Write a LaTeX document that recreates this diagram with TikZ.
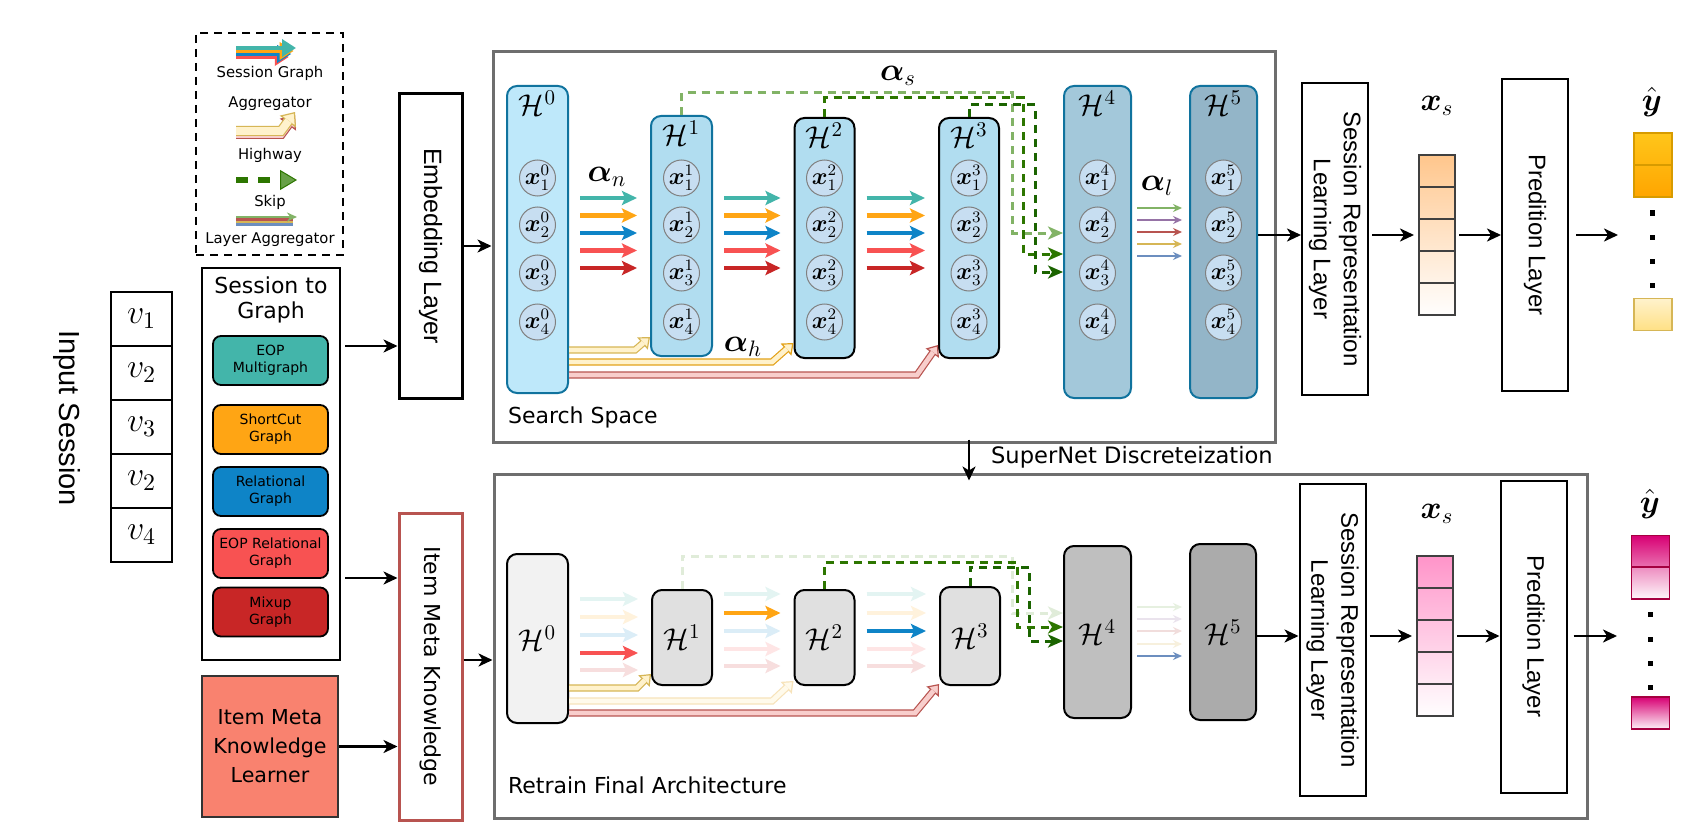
\RequirePackage{fix-cm}
\documentclass[tikz,border=0pt]{standalone}
\usepackage[no-math]{fontspec}
\usepackage{amsmath}
\usetikzlibrary{arrows.meta, positioning}
\newfontfamily\handfont{DejaVu Sans}
\newfontfamily\plainfont{Liberation Sans}
\definecolor{eopteal}{HTML}{43B5AA}
\definecolor{shortorange}{HTML}{FFA514}
\definecolor{relblue}{HTML}{0E84C7}
\definecolor{eopred}{HTML}{F85252}
\definecolor{mixred}{HTML}{C82626}
\definecolor{hlblue}{HTML}{10739E}
\definecolor{hzero}{HTML}{BEE8FA}
\definecolor{hmid}{HTML}{B1DDF0}
\definecolor{hfour}{HTML}{A3C8DA}
\definecolor{hfive}{HTML}{93B5C8}
\definecolor{nodefill}{HTML}{C7DEF1}
\definecolor{skiplight}{HTML}{82B366}
\definecolor{skipdark}{HTML}{2D7600}
\definecolor{skipdeep}{HTML}{1B6400}
\definecolor{hwyfill}{HTML}{FFF2CC}
\definecolor{hwyline}{HTML}{D6B656}
\definecolor{hwyline2}{HTML}{E3A21A}
\definecolor{hwyredfill}{HTML}{F8CECC}
\definecolor{hwyredline}{HTML}{B85450}
\definecolor{lagpurple}{HTML}{9673A6}
\definecolor{lagblue}{HTML}{6C8EBF}
\definecolor{boxgray}{HTML}{6E6E6E}
\definecolor{learnerfill}{HTML}{F9826F}
\definecolor{xsorange}{HTML}{FFC68C}
\definecolor{xspink}{HTML}{FF94C9}
\definecolor{ygold}{HTML}{FFC61A}
\definecolor{ydark}{HTML}{FFA500}
\definecolor{yline}{HTML}{D79B00}
\definecolor{ylight}{HTML}{FFF2CC}
\definecolor{ymag}{HTML}{D80073}
\definecolor{ymagline}{HTML}{A50040}
% highway arrow: fill, border, path
\newcommand{\highway}[3]{%
  \draw[line width=3.6pt, draw=#2, -{Triangle[length=5pt, width=8pt, line width=0.6pt, fill=#1]}] #3;
  \draw[line width=2.4pt, draw=#1, shorten >=4.4pt] #3;}

\begin{document}
\begin{tikzpicture}[x=0.5pt, y=-0.5pt,
  hcol/.style={rectangle, rounded corners=5pt, line width=1pt, inner sep=0pt},
  hbot/.style={hcol, draw=black, font=\fontsize{15}{15}\selectfont},
  hlab/.style={inner sep=0pt, font=\fontsize{15}{15}\selectfont},
  xn/.style={circle, draw=black!50, fill=nodefill, line width=0.5pt, minimum size=18pt, inner sep=0pt, font=\fontsize{12}{12}\selectfont},
  sga/.style={line width=2.3pt, draw=#1, -{Stealth[length=7.5pt, width=7pt, inset=1.5pt]}, shorten <=5.5pt, shorten >=6.5pt},
  lagg/.style={line width=1.4pt, draw=#1, -{Stealth[length=4.5pt, width=4pt]}, shorten <=2.5pt, shorten >=3.5pt},
  skipln/.style={draw=#1, line width=1.5pt, dash pattern=on 4pt off 3pt, -{Stealth[length=7.5pt, width=6.5pt, inset=2pt, fill=#1]}},
  arr/.style={line width=1.2pt, -{Stealth[length=7pt, width=6.5pt, inset=2pt]}},
  plainbox/.style={draw, line width=1pt, minimum width=33pt, minimum height=156pt},
  rottxt/.style={rotate=-90, align=center, font=\plainfont\fontsize{12}{15}\selectfont},
  gbox/.style={draw, line width=0.9pt, rounded corners=4pt, minimum width=57.5pt, minimum height=24.5pt, align=center, inner sep=1pt, font=\handfont\fontsize{7}{8.5}\selectfont},
  legtxt/.style={align=center, font=\handfont\fontsize{7.4}{15}\selectfont},
  xcell/.style={draw=black!75, line width=1pt, minimum width=18pt, minimum height=16pt, inner sep=0pt},
  ycell/.style={line width=0.8pt, minimum width=19pt, minimum height=16pt, inner sep=0pt},
  mlab/.style={font=\fontsize{16}{16}\selectfont}
]
\fill[white] (0,0) rectangle (1689,834);
\useasboundingbox (0,0) rectangle (1689,834);

% legend
\node[draw, line width=1pt, dash pattern=on 4pt off 3pt, minimum width=73.5pt, minimum height=111pt] (legend) at (269.5,144) {};
\coordinate (lgA) at (236,48);
\coordinate (lgB) at (296,48);
\foreach \col/\dy in {eopred/9, relblue/6, shortorange/3, eopteal/0}
  \draw[line width=2.4pt, draw=\col, -{Triangle[length=7pt, width=8.5pt]}] ([yshift=-\dy*0.5pt]lgA) -- ([yshift=-\dy*0.5pt, xshift=-\dy*0.4pt]lgB);
\node[legtxt] (lgt1) at (270,88) {Session Graph\\Aggregator};
\coordinate (lgh1) at (236,131);
\coordinate (lgh2) at (281,131);
\coordinate (lgh3) at (295,112);
\draw[line width=5pt, draw=hwyredline, -{Triangle[length=6pt, width=10pt, line width=0.6pt, fill=hwyredfill]}] ([yshift=-1.5pt]lgh1) -- ([yshift=-1.5pt]lgh2) -- ([yshift=-1.5pt]lgh3);
\draw[line width=3.8pt, draw=hwyredfill, shorten >=5.4pt] ([yshift=-1.5pt]lgh1) -- ([yshift=-1.5pt]lgh2) -- ([yshift=-1.5pt]lgh3);
\draw[line width=5pt, draw=hwyline, -{Triangle[length=6pt, width=10pt, line width=0.6pt, fill=hwyfill]}] (lgh1) -- (lgh2) -- (lgh3);
\draw[line width=3.8pt, draw=hwyfill, shorten >=5.4pt] (lgh1) -- (lgh2) -- (lgh3);
\node[legtxt] (lgt2) at (270,155) {Highway};
\coordinate (lgk1) at (236,180);
\coordinate (lgk2) at (297,180);
\draw[line width=2.6pt, draw=skipdark, dash pattern=on 6pt off 5pt, -{Triangle[length=8.5pt, width=10pt, line width=0.5pt, fill=skiplight!70!skipdark]}] (lgk1) -- (lgk2);
\node[legtxt] (lgt3) at (270,202) {Skip};
\coordinate (lgl1) at (236,217);
\coordinate (lgl2) at (297,217);
\foreach \col/\dy in {lagblue/7.5, hwyline/5, hwyredline/2.5}
  \draw[line width=1.3pt, draw=\col] ([yshift=-\dy*0.5pt]lgl1) -- ([yshift=-\dy*0.5pt, xshift=-2pt]lgl2);
\draw[line width=1.3pt, draw=skiplight, -{Stealth[length=5pt, width=4.5pt]}] (lgl1) -- (lgl2);
\node[legtxt] (lgt4) at (270,240) {Layer Aggregator};

% input session
\node[rotate=-90, font=\plainfont\fontsize{14.5}{14.5}\selectfont] (insess) at (67,418) {Input Session};
\foreach \v/\yy [count=\k] in {1/319, 2/373, 3/427, 2/481, 4/535}
  \node[draw, line width=1pt, minimum width=30.5pt, minimum height=27pt, inner sep=0pt, font=\fontsize{17}{17}\selectfont] (v\k) at (141.5,\yy) {$v_{\v}$};

% session to graph
\node[draw, line width=1pt, minimum width=69pt, minimum height=196pt] (stg) at (271,464) {};
\node[align=center, font=\handfont\fontsize{11}{12.5}\selectfont] (stgt) at (271,300) {Session to\\Graph};
\foreach \nm/\col/\yy/\txt in {eop/eopteal/360.5/{EOP\\Multigraph}, sc/shortorange/429.5/{ShortCut\\Graph}, rel/relblue/491.5/{Relational\\Graph}, eoprel/eopred/553.5/{EOP Relational\\Graph}, mix/mixred/612/{Mixup\\Graph}}
  \node[gbox, fill=\col] (\nm) at (270.5,\yy) {\txt};
\node[draw=black!80, line width=0.7pt, fill=learnerfill, minimum width=68pt, minimum height=70.5pt, align=center, font=\handfont\fontsize{10.3}{14.5}\selectfont] (learner) at (270,746.5) {Item Meta\\Knowledge\\Learner};

% embedding and meta knowledge
\node[draw, line width=1.5pt, minimum width=31.5pt, minimum height=152pt] (emb) at (430.5,246) {};
\node[rotate=-90, font=\plainfont\fontsize{12.5}{12.5}\selectfont] (embt) at (emb) {Embedding Layer};
\node[draw=hwyredline, line width=1.5pt, minimum width=31.5pt, minimum height=153.5pt] (imk) at (430.5,666.5) {};
\node[rotate=-90, font=\handfont\fontsize{11}{11}\selectfont] (imkt) at (imk) {Item Meta Knowledge};

% search space
\node[draw=boxgray, line width=1.5pt, minimum width=391pt, minimum height=195pt] (ss) at (884,247) {};
\node[anchor=west, font=\handfont\fontsize{11}{11}\selectfont] (sst) at (501,417) {Search Space};
\node[draw=boxgray, line width=1.5pt, minimum width=546.5pt, minimum height=172pt] (rt) at (1040.5,646) {};
\node[anchor=west, font=\handfont\fontsize{11}{11}\selectfont] (rtt) at (501,785) {Retrain Final Architecture};

\node[hcol, draw=hlblue, fill=hzero, minimum width=30.5pt, minimum height=153.5pt] (Ht0) at (537.5,239.5) {};
\node[hcol, draw=hlblue, fill=hmid, minimum width=30.5pt, minimum height=120pt] (Ht1) at (681.5,236) {};
\node[hcol, draw=black, fill=hmid, minimum width=30pt, minimum height=120pt] (Ht2) at (824.5,238) {};
\node[hcol, draw=black, fill=hmid, minimum width=30pt, minimum height=120pt] (Ht3) at (969,238) {};
\node[hcol, draw=hlblue, fill=hfour, minimum width=33.5pt, minimum height=156pt] (Ht4) at (1097.5,242) {};
\node[hcol, draw=hlblue, fill=hfive, minimum width=33.5pt, minimum height=156pt] (Ht5) at (1223.5,242) {};
\foreach \c in {0,...,5} {
  \node[hlab, below=3pt of Ht\c.north] (Hl\c) {$\mathcal{H}^{\c}$};
  \foreach \i/\yy in {1/178, 2/225, 3/273, 4/322}
    \node[xn] (xt\c\i) at (Ht\c |- 0,\yy) {$\boldsymbol{x}^{\c}_{\i}$};
}

\foreach \col/\yy in {eopteal/198, shortorange/215.5, relblue/233, eopred/250.5, mixred/268} {
  \draw[sga=\col] (Ht0.east |- 0,\yy) -- (Ht1.west |- 0,\yy);
  \draw[sga=\col] (Ht1.east |- 0,\yy) -- (Ht2.west |- 0,\yy);
  \draw[sga=\col] (Ht2.east |- 0,\yy) -- (Ht3.west |- 0,\yy);
}
\foreach \col/\yy in {skiplight/208, lagpurple/220, hwyredline/232, hwyline/244, lagblue/256}
  \draw[lagg=\col] (Ht4.east |- 0,\yy) -- (Ht5.west |- 0,\yy);

\draw[skipln=skiplight] (Ht1.north) -- (Ht1.north |- 0,93) -- (1012,93) -- (1012,233) -- (Ht4.west |- 0,233);
\draw[skipln=skipdark] (Ht2.north) -- (Ht2.north |- 0,98) -- (1023,98) -- (1023,254) -- (Ht4.west |- 0,254);
\draw[skipln=skipdeep] (Ht3.north) -- (Ht3.north |- 0,105) -- (1035,105) -- (1035,272) -- (Ht4.west |- 0,272);

\highway{hwyfill}{hwyline}{(Ht0.east |- 0,350) -- (635,350) -- ([yshift=10pt]Ht1.south west)}
\highway{hwyfill}{hwyline2}{(Ht0.east |- 0,362) -- (772,362) -- ([yshift=8pt]Ht2.south west)}
\highway{hwyredfill}{hwyredline}{(Ht0.east |- 0,375) -- (917,375) -- ([yshift=7pt]Ht3.south west)}

\node[mlab] (an) at (607,177) {$\boldsymbol{\alpha}_{n}$};
\node[mlab] (ah) at (743,347) {$\boldsymbol{\alpha}_{h}$};
\node[mlab] (as) at (898,76) {$\boldsymbol{\alpha}_{s}$};
\node[mlab] (al) at (1157,186) {$\boldsymbol{\alpha}_{l}$};

% retrain final architecture
\node[hbot, fill=black!5, minimum width=30.5pt, minimum height=84.5pt] (Hb0) at (537.5,638.5) {$\mathcal{H}^{0}$};
\node[hbot, fill=black!12, minimum width=30pt, minimum height=47.5pt] (Hb1) at (682,637.5) {$\mathcal{H}^{1}$};
\node[hbot, fill=black!12, minimum width=30pt, minimum height=47.5pt] (Hb2) at (824.5,637.5) {$\mathcal{H}^{2}$};
\node[hbot, fill=black!12, minimum width=30pt, minimum height=49pt] (Hb3) at (970,636) {$\mathcal{H}^{3}$};
\node[hbot, fill=black!25, minimum width=33.5pt, minimum height=86pt] (Hb4) at (1097.5,632) {$\mathcal{H}^{4}$};
\node[hbot, fill=black!33, minimum width=33pt, minimum height=88pt] (Hb5) at (1223,632) {$\mathcal{H}^{5}$};

\foreach \col/\yy in {eopteal!15/599, shortorange!15/617, relblue!15/635, eopred/653, mixred!15/670}
  \draw[sga=\col] (Hb0.east |- 0,\yy) -- (Hb1.west |- 0,\yy);
\foreach \col/\yy in {eopteal!15/594, shortorange/613, relblue!15/631, eopred!15/649, mixred!15/666}
  \draw[sga=\col] (Hb1.east |- 0,\yy) -- (Hb2.west |- 0,\yy);
\foreach \col/\yy in {eopteal!15/594, shortorange!15/613, relblue/631, eopred!15/649, mixred!15/666}
  \draw[sga=\col] (Hb2.east |- 0,\yy) -- (Hb3.west |- 0,\yy);
\foreach \col/\yy in {skiplight!20/607, lagpurple!20/619, hwyredline!20/631, hwyline!20/644, lagblue/656}
  \draw[lagg=\col] (Hb4.east |- 0,\yy) -- (Hb5.west |- 0,\yy);

\draw[skipln=skiplight!25] (Hb1.north) -- (Hb1.north |- 0,556) -- (1012,556) -- (1012,613) -- (Hb4.west |- 0,613);
\draw[skipln=skipdark] (Hb2.north) -- (Hb2.north |- 0,562) -- (1017,562) -- (1017,627) -- (Hb4.west |- 0,627);
\draw[skipln=skipdeep] (Hb3.north) -- (Hb3.north |- 0,567) -- (1029,567) -- (1029,641) -- (Hb4.west |- 0,641);

\highway{hwyfill}{hwyline}{(Hb0.east |- 0,688) -- (637,688) -- ([yshift=6pt]Hb1.south west)}
\highway{hwyfill!40}{hwyline2!30}{(Hb0.east |- 0,701) -- (772,701) -- ([yshift=2.5pt]Hb2.south west)}
\highway{hwyredfill}{hwyredline}{(Hb0.east |- 0,713) -- (915,713) -- ([yshift=1pt]Hb3.south west)}

% session representation and prediction (search)
\node[plainbox] (srlt) at (1335,239) {};
\node[rottxt] (srltt) at (srlt) {Session Representation\\Learning Layer};
\foreach \k/\yy/\a/\b in {1/171/100/80, 2/203/78/60, 3/235/58/40, 4/267/38/20, 5/299/18/2}
  \node[xcell, top color=xsorange!\a, bottom color=xsorange!\b] (xst\k) at (1437,\yy) {};
\node[mlab] (xslt) at (1437,106) {$\boldsymbol{x}_{s}$};
\node[plainbox] (predt) at (1535,235) {};
\node[rottxt] (predtt) at (predt) {Predition Layer};
\node[mlab] (ylt) at (1652,102) {$\hat{\boldsymbol{y}}$};
\node[ycell, draw=yline, top color=ygold, bottom color=ygold!50!ydark] (yt1) at (1653,149) {};
\node[ycell, draw=yline, top color=ygold!50!ydark, bottom color=ydark] (yt2) at (1653,181) {};
\node[ycell, draw=hwyline, top color=ylight, bottom color=ylight!60!ygold] (yt3) at (1653,314.5) {};
\foreach \yy in {213, 237, 261, 285}
  \fill (1649.5,\yy-2.5) rectangle ++(5,5);
\coordinate (ytin) at (1618,235);

% session representation and prediction (retrain)
\node[plainbox] (srlb) at (1332.5,640) {};
\node[rottxt] (srlbt) at (srlb) {Session Representation\\Learning Layer};
\foreach \k/\yy/\a/\b in {1/572/100/80, 2/604/78/60, 3/636/58/40, 4/668/38/20, 5/700/18/2}
  \node[xcell, top color=xspink!\a, bottom color=xspink!\b] (xsb\k) at (1435,\yy) {};
\node[mlab] (xslb) at (1437,514) {$\boldsymbol{x}_{s}$};
\node[plainbox] (predb) at (1533.5,636.5) {};
\node[rottxt] (predbt) at (predb) {Predition Layer};
\node[mlab] (ylb) at (1650,504) {$\hat{\boldsymbol{y}}$};
\node[ycell, draw=ymagline, top color=ymag, bottom color=ymag!55] (yb1) at (1650.5,551.5) {};
\node[ycell, draw=ymagline, top color=ymag!45, bottom color=ymag!3] (yb2) at (1650.5,583) {};
\node[ycell, draw=ymagline, top color=ymag, bottom color=ymag!5] (yb3) at (1650.5,713) {};
\foreach \yy in {614, 639, 663, 687}
  \fill (1647.5,\yy-2.5) rectangle ++(5,5);
\coordinate (ybin) at (1617,636);

% connectors
\draw[arr, shorten <=2pt] (stg.east |- 0,346) -- (emb.west |- 0,346);
\draw[arr] (emb.east) -- (ss.west |- emb.east);
\draw[arr, shorten <=2pt] (stg.east |- 0,578) -- (imk.west |- 0,578);
\draw[arr] (learner.east) -- (imk.west |- learner.east);
\draw[arr] (imk.east |- 0,660) -- (rt.west |- 0,660);
\draw[arr, shorten <=-2pt, shorten >=-4pt] (Ht3 |- ss.south) -- (Ht3 |- rt.north);
\node[anchor=west, font=\handfont\fontsize{11.3}{11.3}\selectfont] (snt) at (984,457) {SuperNet Discreteization};

\draw[arr] (Ht5.east |- xst3) -- (srlt.west |- xst3);
\draw[arr, shorten <=1.5pt, shorten >=2pt] (srlt.east |- xst3) -- (xst3.west);
\draw[arr, shorten <=1.5pt] (xst3.east) -- (predt.west |- xst3);
\draw[arr, shorten <=3.5pt] (predt.east |- xst3) -- (ytin);

\draw[arr] (Hb5.east |- xsb3) -- (srlb.west |- xsb3);
\draw[arr, shorten <=1.5pt, shorten >=2pt] (srlb.east |- xsb3) -- (xsb3.west);
\draw[arr, shorten <=1.5pt] (xsb3.east) -- (predb.west |- xsb3);
\draw[arr, shorten <=3pt] (predb.east |- xsb3) -- (ybin);
\end{tikzpicture}
\end{document}
